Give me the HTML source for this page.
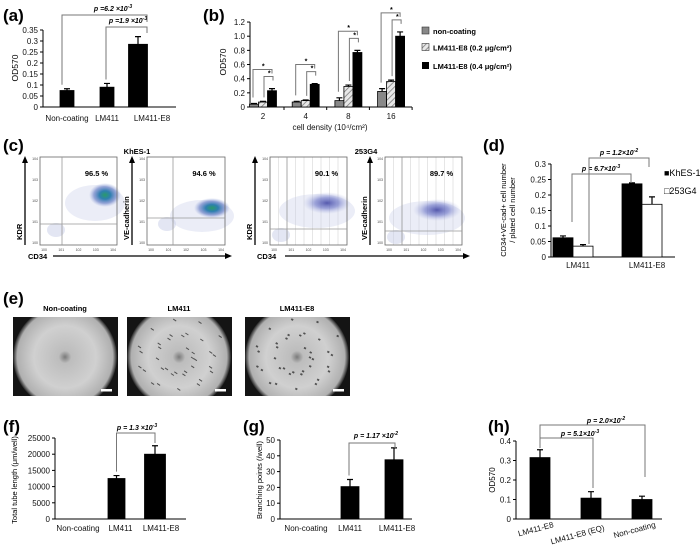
<!DOCTYPE html>
<html><head><meta charset="utf-8">
<style>
html,body{margin:0;padding:0;background:#fff;}
svg{display:block;font-family:"Liberation Sans",sans-serif;}
.pl{font-weight:bold;font-size:17px;}
.tk{font-size:8px;fill:#111;}
.pv{font-size:7px;font-weight:bold;font-style:italic;}
.lg{font-size:7.5px;font-weight:bold;}
.ax{stroke:#000;stroke-width:1;fill:none;}
.br{stroke:#777;stroke-width:1;fill:none;}
.ft{font-size:3.5px;fill:#444;}
</style></head>
<body>
<svg id="fig" width="700" height="546" viewBox="0 0 700 546">
<defs>
<pattern id="hatch" width="4" height="4" patternUnits="userSpaceOnUse" patternTransform="rotate(45)">
<rect width="4" height="4" fill="#e8e8e8"/><line x1="0" y1="0" x2="0" y2="4" stroke="#777" stroke-width="1.5"/>
</pattern>
<radialGradient id="dish" cx="50%" cy="50%" r="50%">
<stop offset="0" stop-color="#7a7a7a"/><stop offset="0.12" stop-color="#bdbdbd"/><stop offset="0.6" stop-color="#d0d0d0"/><stop offset="0.92" stop-color="#b0b0b0"/><stop offset="1" stop-color="#222"/>
</radialGradient>
<radialGradient id="blobG" cx="50%" cy="50%" r="50%">
<stop offset="0" stop-color="#2a9a6a"/><stop offset="0.35" stop-color="#2f7fb0"/><stop offset="0.7" stop-color="#5a73c0" stop-opacity="0.6"/><stop offset="1" stop-color="#8fa0d8" stop-opacity="0"/>
</radialGradient>
<radialGradient id="blobB" cx="50%" cy="50%" r="50%">
<stop offset="0" stop-color="#3a3fa0" stop-opacity="0.85"/><stop offset="0.5" stop-color="#5c66c0" stop-opacity="0.55"/><stop offset="1" stop-color="#a8b0e0" stop-opacity="0"/>
</radialGradient>
</defs>

<text class="pl" x="3" y="21">(a)</text>
<text class="pl" x="203" y="21">(b)</text>
<text class="pl" x="3" y="151">(c)</text>
<text class="pl" x="483" y="151">(d)</text>
<text class="pl" x="3" y="304">(e)</text>
<text class="pl" x="3" y="432">(f)</text>
<text class="pl" x="243" y="432">(g)</text>
<text class="pl" x="488" y="432">(h)</text>

<g id="pa"></g>
<g id="pb"></g>
<g id="pc"></g>
<g id="pd"></g>
<g id="pe"></g>
<g id="pf"></g>
<g id="pg"></g>
<g id="ph"></g>

<g>
<rect x="422" y="27" width="7" height="7" fill="#888" stroke="#333" stroke-width="0.6"/>
<text class="lg" x="433" y="34">non-coating</text>
<rect x="422" y="43.5" width="7" height="7" fill="url(#hatch)" stroke="#333" stroke-width="0.6"/>
<text class="lg" x="433" y="50.5">LM411-E8 (0.2 μg/cm²)</text>
<rect x="422" y="62" width="7" height="7" fill="#000"/>
<text class="lg" x="433" y="69">LM411-E8 (0.4 μg/cm²)</text>
</g>
<text x="664" y="176" font-size="9">■KhES-1</text>
<text x="664" y="194" font-size="9">□253G4</text>
</svg>

<script>
var NS = "http://www.w3.org/2000/svg";
var aCats = ["Non-coating", "LM411", "LM411-E8"];
var aVals = [0.075, 0.09, 0.285];
var aErr = [0.008, 0.017, 0.035];
var aTicks = [0, 0.05, 0.1, 0.15, 0.2, 0.25, 0.3, 0.35];
var aTickLabels = ["0", "0.05", "0.1", "0.15", "0.2", "0.25", "0.3", "0.35"];

var bCats = ["2", "4", "8", "16"];
var bNon = [0.04, 0.07, 0.09, 0.22];
var bNonErr = [0.01, 0.01, 0.04, 0.04];
var bLow = [0.07, 0.09, 0.29, 0.36];
var bLowErr = [0.01, 0.01, 0.02, 0.02];
var bHigh = [0.23, 0.32, 0.77, 1.0];
var bHighErr = [0.03, 0.01, 0.03, 0.06];
var bTicks = [0, 0.2, 0.4, 0.6, 0.8, 1.0, 1.2];
var bTickLabels = ["0", "0.2", "0.4", "0.6", "0.8", "1.0", "1.2"];

var cPercents = ["96.5 %", "94.6 %", "90.1 %", "89.7 %"];

var dCats = ["LM411", "LM411-E8"];
var dKhes = [0.062, 0.236];
var dKhesErr = [0.006, 0.003];
var d253 = [0.035, 0.170];
var d253Err = [0.005, 0.024];
var dTicks = [0, 0.05, 0.1, 0.15, 0.2, 0.25, 0.3];
var dTickLabels = ["0", "0.05", "0.1", "0.15", "0.2", "0.25", "0.3"];

var fCats = ["Non-coating", "LM411", "LM411-E8"];
var fVals = [0, 12500, 20000];
var fErr = [0, 900, 2600];
var fTicks = [0, 5000, 10000, 15000, 20000, 25000];

var gCats = ["Non-coating", "LM411", "LM411-E8"];
var gVals = [0, 20.5, 37.5];
var gErr = [0, 4.5, 7.5];
var gTicks = [0, 10, 20, 30, 40, 50];

var hCats = ["LM411-E8", "LM411-E8 (EQ)", "Non-coating"];
var hVals = [0.315, 0.107, 0.1];
var hErr = [0.04, 0.033, 0.017];
var hTicks = [0, 0.1, 0.2, 0.3, 0.4];
var hTickLabels = ["0", "0.1", "0.2", "0.3", "0.4"];

function mk(tag, attrs, parent) {
  var e = document.createElementNS(NS, tag);
  for (var k in attrs) e.setAttribute(k, attrs[k]);
  parent.appendChild(e);
  return e;
}
function txt(parent, x, y, s, cls, anchor) {
  var t = mk("text", {x: x, y: y, "class": cls || "tk", "text-anchor": anchor || "middle"}, parent);
  t.textContent = s;
  return t;
}
function yAxis(parent, x, y0, y1, ticks, labels, scale, name) {
  var l = mk("line", {x1: x, y1: y0, x2: x, y2: y1, "class": "ax"}, parent);
  
  
  for (var i = 0; i < ticks.length; i++) {
    var y = scale(ticks[i]);
    var tl = mk("line", {x1: x - 3, y1: y, x2: x, y2: y, "class": "ax"}, parent);
    
    
    var t = txt(parent, x - 5, y + 3, labels[i], "tk", "end");
    
    
  }
}
function xAxis(parent, x0, x1, y, name) {
  var l = mk("line", {x1: x0, y1: y, x2: x1, y2: y, "class": "ax"}, parent);
  
  
}
function bar(parent, cx, w, v, err, scale, fill, name) {
  var y0 = scale(0), y = scale(v);
  var r = mk("rect", {x: cx - w / 2, y: Math.min(y, y0), width: w, height: Math.abs(y0 - y), fill: fill, stroke: "#000", "stroke-width": 0.8}, parent);
  
  
  if (err > 0) {
    var ye = scale(v + err);
    var el = mk("path", {d: "M" + cx + " " + y + "V" + ye + "M" + (cx - 3) + " " + ye + "H" + (cx + 3), stroke: "#000", "stroke-width": 1.2, fill: "none"}, parent);
    
    
  }
  return r;
}
function bracket(parent, x1, yb1, yTop, x2, yb2, stroke, name) {
  var p = mk("path", {d: "M" + x1 + " " + yb1 + "V" + yTop + "H" + x2 + "V" + yb2, stroke: stroke || "#777", "stroke-width": 1, fill: "none"}, parent);
  
  
  return p;
}
function pval(parent, x, y, base, exp, name) {
  var t = mk("text", {x: x, y: y, "class": "pv", "text-anchor": "middle"}, parent);
  t.textContent = base;
  var s = mk("tspan", {dy: -3, "font-size": 5}, t);
  s.textContent = exp;
  
  
  return t;
}
function ylabel(parent, x, y, s, size, name) {
  var t = mk("text", {x: x, y: y, "font-size": size, "text-anchor": "middle", transform: "rotate(-90 " + x + " " + y + ")"}, parent);
  t.textContent = s;
  
  
  return t;
}

// panel a
(function () {
  var g = document.getElementById("pa");
  var ya = function (v) { return 107 - v * 220; };
  var xa = function (i) { return 67 + i * 40; };
  yAxis(g, 43, 107, 30, aTicks, aTickLabels, ya, "a");
  xAxis(g, 43, 176, 107, "a");
  ylabel(g, 18, 68, "OD570", 8.5, "a-y-axis-title");
  var widths = [14, 14, 19];
  var lx = [67, 107, 152];
  for (var i = 0; i < aCats.length; i++) {
    bar(g, xa(i) + (i === 2 ? -9 : 0), widths[i], aVals[i], aErr[i], ya, "#000", "a-bar-" + aCats[i].toLowerCase());
    var t = txt(g, lx[i], 121, aCats[i], "tk");
    
    
  }
  bracket(g, 62, ya(aVals[0] + aErr[0]) - 4, 15, 147, 22, "#777", "a-bracket-noncoating");
  pval(g, 113, 11, "p =6.2 ×10", "-3", "a-p-value-1");
  bracket(g, 106, ya(aVals[1] + aErr[1]) - 4, 27, 147, 33, "#777", "a-bracket-lm411");
  pval(g, 128, 23, "p =1.9 ×10", "-3", "a-p-value-2");
})();

// panel b
(function () {
  var g = document.getElementById("pb");
  var yb = function (v) { return 107 - v * 70.8; };
  var xb = function (i) { return 263 + i * 42.7; };
  yAxis(g, 250, 107, 22, bTicks, bTickLabels, yb, "b");
  xAxis(g, 250, 412, 107, "b");
  ylabel(g, 226, 62, "OD570", 8.5, "b-y-axis-title");
  var t0 = txt(g, 330, 130, "cell density (10⁴/cm²)", "tk");
  
  
  var w = 9;
  for (var i = 0; i < bCats.length; i++) {
    var c = xb(i);
    bar(g, c - w, w, bNon[i], bNonErr[i], yb, "#888", "b-bar-noncoating");
    bar(g, c, w, bLow[i], bLowErr[i], yb, "url(#hatch)", "b-bar-low");
    bar(g, c + w, w, bHigh[i], bHighErr[i], yb, "#000", "b-bar-high");
    var tk = mk("line", {x1: c + 21, y1: 107, x2: c + 21, y2: 110, "class": "ax"}, g);
    
    
    var t = txt(g, c, 119, bCats[i], "tk");
    
    
    var m = bHigh[i] + bHighErr[i];
    var outer = yb(m + 0.27), inner = yb(m + 0.17);
    bracket(g, c - w - 1, yb(bNon[i] + bNonErr[i]) - 6, outer, c + w, outer + 4, "#777", "b-bracket-outer");
    bracket(g, c + 1, yb(bLow[i] + bLowErr[i]) - 4, inner, c + w + 1, inner + 4, "#777", "b-bracket-inner");
    var s1 = txt(g, c, outer - 1, "*", "pv");
    
    
    var s2 = txt(g, c + 6, inner - 1, "*", "pv");
    
    
  }
})();

// panel c
(function () {
  var g = document.getElementById("pc");
  var boxes = [[40, 117, 62, 224, 105, 195, 16, 12, "blobG"], [147, 225, 173, 218, 212, 208, 18, 10, "blobG"],
               [270, 347, 287, 229, 327, 203, 24, 11, "blobB"], [385, 462, 402, 231, 437, 210, 24, 11, "blobB"]];
  var t1 = txt(g, 137, 154, "KhES-1", "lg");
  t1.setAttribute('font-size', '9');
  
  
  var t2 = txt(g, 366, 154, "253G4", "lg");
  t2.setAttribute('font-size', '9');
  
  
  var ylabs = ["KDR", "VE-cadherin", "KDR", "VE-cadherin"];
  for (var i = 0; i < boxes.length; i++) {
    var b = boxes[i];
    if (i >= 2) {
      for (var k = 1; k < 9; k++) {
        var gl = mk("line", {x1: b[0] + k * 8.5, y1: 157, x2: b[0] + k * 8.5, y2: 245, stroke: "#e6e6e6", "stroke-width": 1}, g);
        
        
      }
    }
    var bl = mk("ellipse", {cx: b[4] - 10, cy: b[5] + 8, rx: b[6] + 14, ry: b[7] + 6, fill: "#c5cbe8", opacity: 0.35}, g);
    
    
    var lo = mk("ellipse", {cx: b[2] - 6, cy: b[3] + 6, rx: 9, ry: 7, fill: "#c8cde8", opacity: 0.5}, g);
    
    
    var blob = mk("ellipse", {cx: b[4], cy: b[5], rx: b[6], ry: b[7], fill: "url(#" + b[8] + ")"}, g);
    
    
    var r = mk("rect", {x: b[0], y: 157, width: b[1] - b[0], height: 88, fill: "none", stroke: "#666", "stroke-width": 0.8}, g);
    
    
    var q = mk("path", {d: "M" + b[2] + " 157V245M" + b[0] + " " + b[3] + "H" + b[1], stroke: "#999", "stroke-width": 0.8, fill: "none"}, g);
    
    
    var p = txt(g, (b[0] + b[1]) / 2 + 18, 176, cPercents[i], "lg");
    
    
    var ax = b[0] - 15;
    var ar = mk("path", {d: "M" + ax + " 245V162", stroke: "#000", "stroke-width": 1.3, fill: "none"}, g);
    
    
    var ah = mk("polygon", {points: (ax - 3) + ",163 " + (ax + 3) + ",163 " + ax + ",156", fill: "#000"}, g);
    
    
    var yl = mk("text", {x: ax - 3, y: 240, "font-size": 7.5, "font-weight": "bold", transform: "rotate(-90 " + (ax - 3) + " 240)"}, g);
    yl.textContent = ylabs[i];
    
    
    for (var k2 = 0; k2 < 5; k2++) {
      var tx = txt(g, b[0] + 4 + k2 * (b[1] - b[0] - 8) / 4, 251, "10" + k2, "ft");
      
      
      var ty = txt(g, b[0] - 2, 244 - k2 * 21, "10" + k2, "ft", "end");
      
      
    }
  }
  var arrows = [[28, 53, 232], [257, 285, 470]];
  for (var j = 0; j < 2; j++) {
    var a = arrows[j];
    var lab = txt(g, a[0], 259, "CD34", "lg", "start");
    
    
    var hl = mk("path", {d: "M" + a[1] + " 256H" + (a[2] - 6), stroke: "#000", "stroke-width": 1.3}, g);
    
    
    var hh = mk("polygon", {points: (a[2] - 7) + ",253 " + (a[2] - 7) + ",259 " + a[2] + ",256", fill: "#000"}, g);
    
    
  }
})();

// panel d
(function () {
  var g = document.getElementById("pd");
  var yd = function (v) { return 257 - v * 310; };
  var xd = function (i) { return 573 + i * 69; };
  yAxis(g, 551, 257, 164, dTicks, dTickLabels, yd, "d");
  xAxis(g, 551, 675, 257, "d");
  ylabel(g, 506, 210, "CD34+VE-cad+ cell number", 7.5, "d-y-axis-title-1");
  ylabel(g, 515, 210, "/ plated cell number", 7.5, "d-y-axis-title-2");
  for (var i = 0; i < dCats.length; i++) {
    bar(g, xd(i) - 10, 20, dKhes[i], dKhesErr[i], yd, "#000", "d-bar-khes1");
    bar(g, xd(i) + 10, 20, d253[i], d253Err[i], yd, "#fff", "d-bar-253g4");
    var t = txt(g, xd(i) + 5, 268, dCats[i], "tk");
    
    
  }
  bracket(g, 572, 222, 174, 631, 183, "#777", "d-bracket-khes1");
  pval(g, 601, 171, "p = 6.7×10", "-3", "d-p-value-1");
  bracket(g, 589, 244, 158, 649, 167, "#777", "d-bracket-253g4");
  pval(g, 619, 155, "p = 1.2×10", "-2", "d-p-value-2");
})();

// panel e
(function () {
  var g = document.getElementById("pe");
  var imgs = [[13, "Non-coating", 0], [127, "LM411", 1], [245, "LM411-E8", 2]];
  for (var i = 0; i < imgs.length; i++) {
    var x = imgs[i][0];
    var lb = txt(g, x + 52, 311, imgs[i][1], "lg");
    lb.setAttribute('font-size', '8.5');
    
    
    var bg = mk("rect", {x: x, y: 317, width: 105, height: 79, fill: "#141414"}, g);
    
    
    var cp = "clip" + i;
    var cl = mk("clipPath", {id: cp}, g);
    mk("rect", {x: x, y: 317, width: 105, height: 79}, cl);
    var c = mk("circle", {cx: x + 52, cy: 357, r: 52, fill: "url(#dish)", "clip-path": "url(#" + cp + ")"}, g);
    
    
    if (imgs[i][2] > 0) {
      var n = imgs[i][2] === 1 ? 3 : 2;
      var pts = "";
      for (var a = 0; a < 36; a++) {
        var ang = a * 2.4, rr = 12 + (a * 7) % 36;
        var px = x + 52 + rr * Math.cos(ang), py = 357 + rr * 0.85 * Math.sin(ang);
        pts += "M" + px.toFixed(1) + " " + py.toFixed(1) + "l" + n + " " + (n - 1);
      }
      var sp = mk("path", {d: pts, stroke: "#333", "stroke-width": imgs[i][2] === 1 ? 1 : 1.8, fill: "none", opacity: 0.8}, g);
      
      
    }
    var sb = mk("rect", {x: x + 88, y: 389, width: 11, height: 2.5, fill: "#fff"}, g);
    
    
  }
})();

// panel f
(function () {
  var g = document.getElementById("pf");
  var yf = function (v) { return 519 - v * (81 / 25000); };
  var xf = function (i) { return 78 + i * 38.5; };
  yAxis(g, 55, 519, 438, fTicks, fTicks.map(String), yf, "f");
  xAxis(g, 55, 186, 519, "f");
  ylabel(g, 17, 480, "Total tube length (μm/well)", 7.5, "f-y-axis-title");
  for (var i = 0; i < fCats.length; i++) {
    bar(g, xf(i), i === 2 ? 21 : 17, fVals[i], fErr[i], yf, "#000", "f-bar");
    var t = txt(g, xf(i) + (i === 2 ? 6 : (i === 0 ? 0 : 4)), 531, fCats[i], "tk");
    
    
  }
  bracket(g, xf(1), yf(fVals[1] + fErr[1]) - 4, 433, xf(2), 443, "#777", "f-bracket");
  pval(g, 137, 430, "p = 1.3 ×10", "-3", "f-p-value");
})();

// panel g
(function () {
  var g = document.getElementById("pg");
  var yg = function (v) { return 519 - v * (79 / 50); };
  var xg = function (i) { return 306 + i * 44; };
  yAxis(g, 280, 519, 440, gTicks, gTicks.map(String), yg, "g");
  xAxis(g, 280, 412, 519, "g");
  ylabel(g, 262, 480, "Branching points (/well)", 7.5, "g-y-axis-title");
  for (var i = 0; i < gCats.length; i++) {
    bar(g, xg(i), 18, gVals[i], gErr[i], yg, "#000", "g-bar");
    var t = txt(g, xg(i) + (i === 2 ? 3 : 0), 531, gCats[i], "tk");
    
    
  }
  bracket(g, xg(1) - 1, yg(gVals[1] + gErr[1]) - 4, 443, xg(2) + 1, 448, "#777", "g-bracket");
  pval(g, 376, 438, "p = 1.17 ×10", "-2", "g-p-value");
})();

// panel h
(function () {
  var g = document.getElementById("ph");
  var yh = function (v) { return 519 - v * 195; };
  var xh = function (i) { return 540 + i * 51; };
  yAxis(g, 516, 519, 441, hTicks, hTickLabels, yh, "h");
  xAxis(g, 516, 662, 519, "h");
  ylabel(g, 495, 480, "OD570", 8, "h-y-axis-title");
  for (var i = 0; i < hCats.length; i++) {
    bar(g, xh(i), 20, hVals[i], hErr[i], yh, "#000", "h-bar");
    var lx = xh(i) + 14, ly = 527 + (i === 1 ? 3 : 0);
    var t = mk("text", {x: lx, y: ly, "class": "tk", "text-anchor": "end", transform: "rotate(-15 " + lx + " " + ly + ")"}, g);
    t.textContent = hCats[i];
    
    
  }
  bracket(g, xh(0), yh(hVals[0] + hErr[0]) - 4, 425, xh(2) + 3, 477, "#777", "h-bracket-noncoating");
  pval(g, 606, 423, "p = 2.0×10", "-2", "h-p-value-1");
  bracket(g, xh(0), 448, 438, xh(1) + 2, 488, "#777", "h-bracket-eq");
  pval(g, 580, 436, "p = 5.1×10", "-3", "h-p-value-2");
})();
</script>
</body></html>
